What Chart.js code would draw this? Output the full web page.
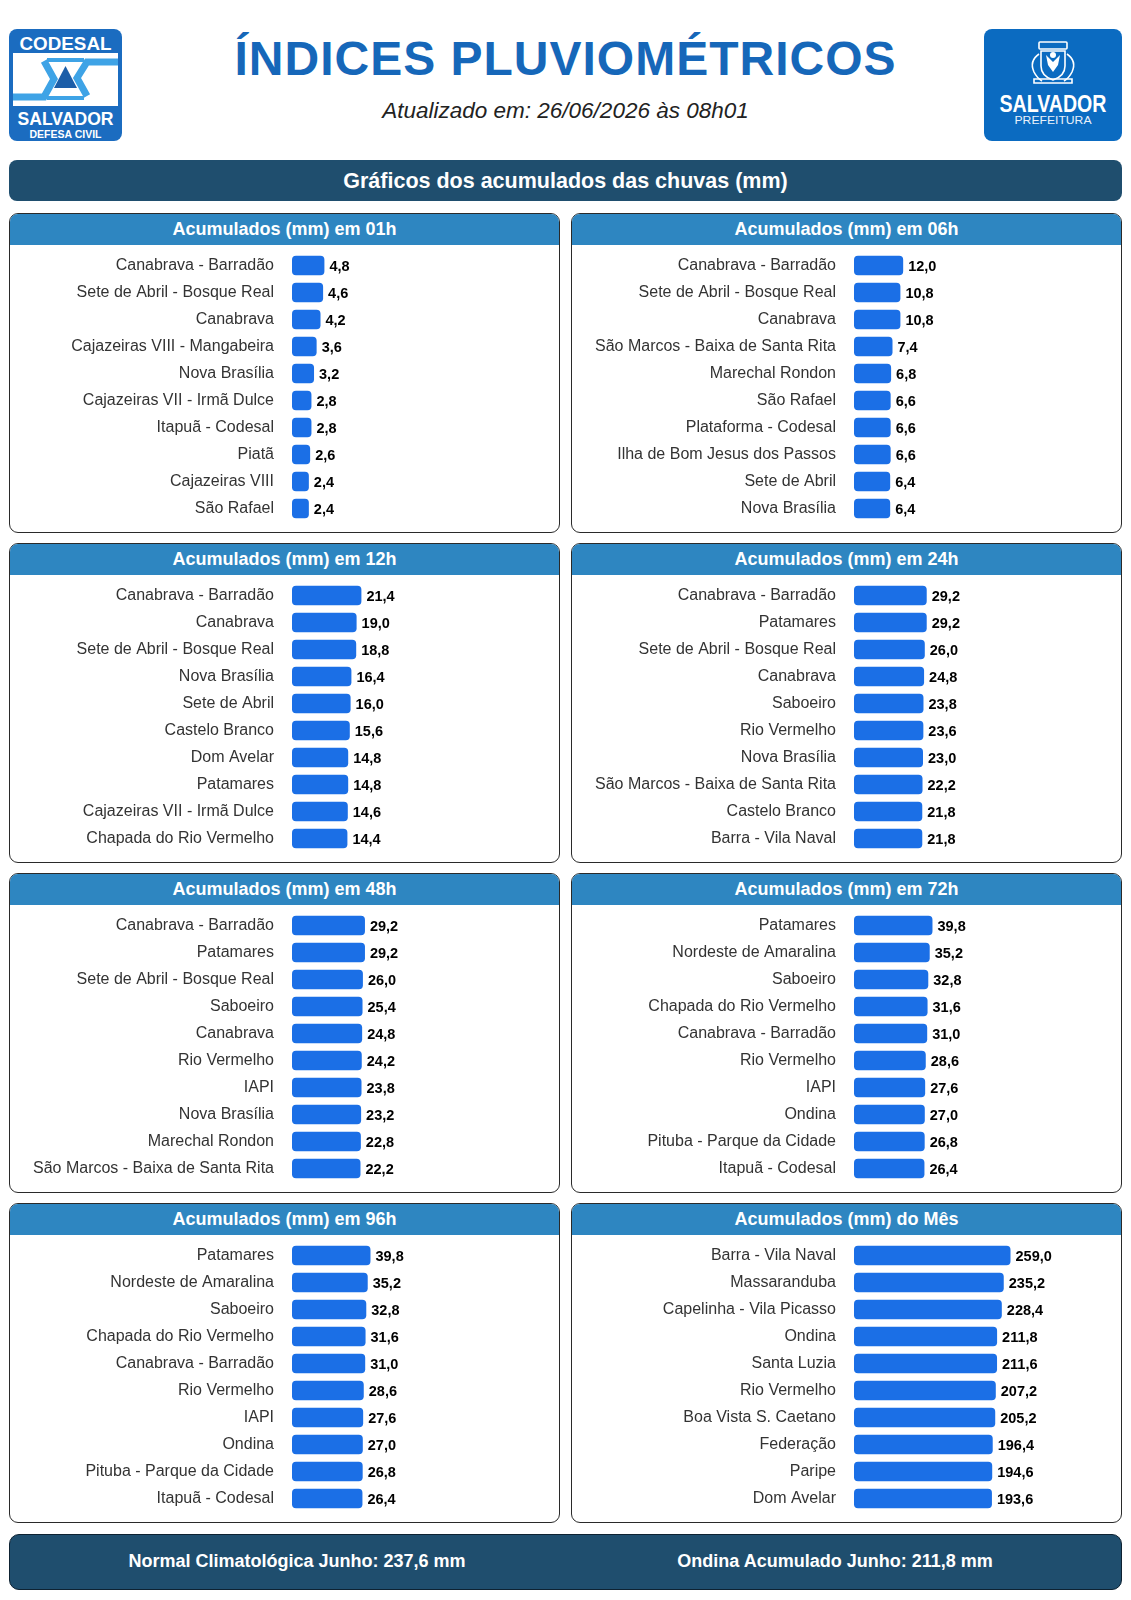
<!DOCTYPE html>
<html lang="pt-BR">
<head>
<meta charset="utf-8">
<title>Índices Pluviométricos</title>
<script src="https://cdn.jsdelivr.net/npm/chart.js@4.4.1/dist/chart.umd.min.js"></script>
<style>
  html, body { margin: 0; padding: 0; background: #fff; }
  body { width: 1131px; height: 1600px; position: relative; font-family: "Liberation Sans", Arial, sans-serif; }
  .abs { position: absolute; }
  #title { left: 0; width: 1131px; top: 30px; text-align: center; color: #1667b9; font-weight: bold; font-size: 48px; letter-spacing: 1px; line-height: 58px; }
  #subtitle { left: 0; width: 1131px; top: 98px; text-align: center; color: #222; font-style: italic; font-size: 22.5px; line-height: 26px; }
  #banner { left: 9px; top: 160px; width: 1113px; height: 41px; background: #1f4e6e; border-radius: 8px; color: #fff; font-weight: bold; font-size: 21.5px; line-height: 42px; text-align: center; }
  .panel { position: absolute; width: 551px; height: 320px; box-sizing: border-box; border: 1px solid #2a2a2a; border-radius: 9px; overflow: hidden; background: #fff; }
  .phead { height: 31px; background: #2e86c1; color: #fff; font-weight: bold; font-size: 18px; line-height: 31px; text-align: center; }
  .panel canvas { display: block; margin-top: -1.5px; }
  #footer { left: 9px; top: 1534px; width: 1113px; height: 56px; box-sizing: border-box; background: #1f4e6e; border: 1.5px solid #0e2232; border-radius: 10px; color: #fff; font-weight: bold; font-size: 18px; }
  #footer span { position: absolute; top: 0; line-height: 53px; white-space: nowrap; transform: translateX(-50%); }
</style>
</head>
<body>

<script>
// accumulated rain per station (mm), read from the bulletin
const labels01h = ['Canabrava - Barradão', 'Sete de Abril - Bosque Real', 'Canabrava', 'Cajazeiras VIII - Mangabeira', 'Nova Brasília', 'Cajazeiras VII - Irmã Dulce', 'Itapuã - Codesal', 'Piatã', 'Cajazeiras VIII', 'São Rafael'];
const values01h = [4.8, 4.6, 4.2, 3.6, 3.2, 2.8, 2.8, 2.6, 2.4, 2.4];

const labels06h = ['Canabrava - Barradão', 'Sete de Abril - Bosque Real', 'Canabrava', 'São Marcos - Baixa de Santa Rita', 'Marechal Rondon', 'São Rafael', 'Plataforma - Codesal', 'Ilha de Bom Jesus dos Passos', 'Sete de Abril', 'Nova Brasília'];
const values06h = [12.0, 10.8, 10.8, 7.4, 6.8, 6.6, 6.6, 6.6, 6.4, 6.4];

const labels12h = ['Canabrava - Barradão', 'Canabrava', 'Sete de Abril - Bosque Real', 'Nova Brasília', 'Sete de Abril', 'Castelo Branco', 'Dom Avelar', 'Patamares', 'Cajazeiras VII - Irmã Dulce', 'Chapada do Rio Vermelho'];
const values12h = [21.4, 19.0, 18.8, 16.4, 16.0, 15.6, 14.8, 14.8, 14.6, 14.4];

const labels24h = ['Canabrava - Barradão', 'Patamares', 'Sete de Abril - Bosque Real', 'Canabrava', 'Saboeiro', 'Rio Vermelho', 'Nova Brasília', 'São Marcos - Baixa de Santa Rita', 'Castelo Branco', 'Barra - Vila Naval'];
const values24h = [29.2, 29.2, 26.0, 24.8, 23.8, 23.6, 23.0, 22.2, 21.8, 21.8];

const labels48h = ['Canabrava - Barradão', 'Patamares', 'Sete de Abril - Bosque Real', 'Saboeiro', 'Canabrava', 'Rio Vermelho', 'IAPI', 'Nova Brasília', 'Marechal Rondon', 'São Marcos - Baixa de Santa Rita'];
const values48h = [29.2, 29.2, 26.0, 25.4, 24.8, 24.2, 23.8, 23.2, 22.8, 22.2];

const labels72h = ['Patamares', 'Nordeste de Amaralina', 'Saboeiro', 'Chapada do Rio Vermelho', 'Canabrava - Barradão', 'Rio Vermelho', 'IAPI', 'Ondina', 'Pituba - Parque da Cidade', 'Itapuã - Codesal'];
const values72h = [39.8, 35.2, 32.8, 31.6, 31.0, 28.6, 27.6, 27.0, 26.8, 26.4];

const labels96h = ['Patamares', 'Nordeste de Amaralina', 'Saboeiro', 'Chapada do Rio Vermelho', 'Canabrava - Barradão', 'Rio Vermelho', 'IAPI', 'Ondina', 'Pituba - Parque da Cidade', 'Itapuã - Codesal'];
const values96h = [39.8, 35.2, 32.8, 31.6, 31.0, 28.6, 27.6, 27.0, 26.8, 26.4];

const labelsMes = ['Barra - Vila Naval', 'Massaranduba', 'Capelinha - Vila Picasso', 'Ondina', 'Santa Luzia', 'Rio Vermelho', 'Boa Vista S. Caetano', 'Federação', 'Paripe', 'Dom Avelar'];
const valuesMes = [259.0, 235.2, 228.4, 211.8, 211.6, 207.2, 205.2, 196.4, 194.6, 193.6];

const normalJunho = 237.6;
const ondinaJunho = 211.8;
</script>

<!-- CODESAL logo -->
<svg class="abs" style="left:9px;top:29px" width="113" height="112" viewBox="0 0 113 112">
  <rect x="0" y="0" width="113" height="112" rx="8" fill="#1b6cc0"/>
  <text x="56.5" y="20.5" text-anchor="middle" fill="#fff" font-family="Liberation Sans, Arial, sans-serif" font-weight="bold" font-size="19" textLength="92" lengthAdjust="spacingAndGlyphs">CODESAL</text>
  <rect x="4" y="24" width="105" height="53" fill="#fff"/>
  <polyline points="109,33 78,33 68,49 78,67" fill="none" stroke="#3ea3e6" stroke-width="7"/>
  <polyline points="4,68 35,68 45,50 35,32" fill="none" stroke="#3ea3e6" stroke-width="7"/>
  <polyline points="38,31 75,31" fill="none" stroke="#3ea3e6" stroke-width="4"/>
  <polyline points="38,69 75,69" fill="none" stroke="#3ea3e6" stroke-width="4"/>
  <polygon points="56.5,37 68,59 45,59" fill="#1c5ea8"/>
  <text x="56.5" y="96" text-anchor="middle" fill="#fff" font-family="Liberation Sans, Arial, sans-serif" font-weight="bold" font-size="19" textLength="96" lengthAdjust="spacingAndGlyphs">SALVADOR</text>
  <text x="56.5" y="108.5" text-anchor="middle" fill="#fff" font-family="Liberation Sans, Arial, sans-serif" font-weight="bold" font-size="11" textLength="72" lengthAdjust="spacingAndGlyphs">DEFESA CIVIL</text>
</svg>

<!-- Prefeitura logo -->
<svg class="abs" style="left:984px;top:29px" width="138" height="112" viewBox="0 0 138 112">
  <rect x="0" y="0" width="138" height="112" rx="8" fill="#0b6bc1"/>
  <g fill="none" stroke="#fff" stroke-width="1.6">
    <rect x="55" y="13" width="28" height="7" rx="1"/>
    <path d="M57 22 h24 v15 q0 10 -12 14 q-12 -4 -12 -14 z"/>
    <path d="M55 25 q-10 7 -5 18 q3 6 8 9"/>
    <path d="M83 25 q10 7 5 18 q-3 6 -8 9"/>
    <path d="M50 50 h38 v4 h-38 z"/>
  </g>
  <path d="M62 26 l7 7 l7 -7 l-2 10 l-5 7 l-5 -7 z" fill="#fff"/>
  <circle cx="69" cy="26" r="3" fill="#fff"/>
  <text x="69" y="83" text-anchor="middle" fill="#fff" font-family="Liberation Sans, Arial, sans-serif" font-weight="bold" font-size="24" textLength="107" lengthAdjust="spacingAndGlyphs">SALVADOR</text>
  <text x="69" y="95" text-anchor="middle" fill="#e8f1fb" font-family="Liberation Sans, Arial, sans-serif" font-size="10.5" textLength="77" lengthAdjust="spacingAndGlyphs">PREFEITURA</text>
</svg>

<div id="title" class="abs">ÍNDICES PLUVIOMÉTRICOS</div>
<div id="subtitle" class="abs">Atualizado em: 26/06/2026 às 08h01</div>
<div id="banner" class="abs">Gráficos dos acumulados das chuvas (mm)</div>

<div id="panels"></div>

<div id="footer" class="abs">
  <span id="normal" style="left:287px"></span>
  <span id="ondina" style="left:825px"></span>
</div>

<script>
const fmt = v => v.toFixed(1).replace('.', ',');

document.getElementById('normal').textContent = 'Normal Climatológica Junho: ' + fmt(normalJunho) + ' mm';
document.getElementById('ondina').textContent = 'Ondina Acumulado Junho: ' + fmt(ondinaJunho) + ' mm';

// value axis range per panel, so bar lengths follow the original bulletin
const panels = [
  { title: 'Acumulados (mm) em 01h', labels: labels01h, values: values01h, min: -0.2, max: 41 },
  { title: 'Acumulados (mm) em 06h', labels: labels06h, values: values06h, min: -9.2, max: 105.9 },
  { title: 'Acumulados (mm) em 12h', labels: labels12h, values: values12h, min: -13.3, max: 120.2 },
  { title: 'Acumulados (mm) em 24h', labels: labels24h, values: values24h, min: -92, max: 353 },
  { title: 'Acumulados (mm) em 48h', labels: labels48h, values: values48h, min: -84.8, max: 332.4 },
  { title: 'Acumulados (mm) em 72h', labels: labels72h, values: values72h, min: -91, max: 354 },
  { title: 'Acumulados (mm) em 96h', labels: labels96h, values: values96h, min: -91, max: 354 },
  { title: 'Acumulados (mm) do Mês', labels: labelsMes, values: valuesMes, min: -292, max: 648 }
];

const FONT = '"Liberation Sans", Arial, sans-serif';

const valueLabels = {
  id: 'valueLabels',
  afterDatasetsDraw(chart) {
    const ctx = chart.ctx;
    const ds = chart.data.datasets[0];
    ctx.save();
    ctx.font = 'bold 14.5px ' + FONT;
    ctx.fillStyle = '#000';
    ctx.textBaseline = 'middle';
    ctx.textAlign = 'left';
    chart.getDatasetMeta(0).data.forEach((bar, i) => {
      ctx.fillText(fmt(ds.data[i]), bar.x + 5, bar.y + 1.5);
    });
    ctx.restore();
  }
};

const host = document.getElementById('panels');
panels.forEach((p, i) => {
  const col = i % 2, row = Math.floor(i / 2);
  const box = document.createElement('div');
  box.className = 'panel';
  box.style.left = (col ? 571 : 9) + 'px';
  box.style.top = (213 + row * 330) + 'px';
  const head = document.createElement('div');
  head.className = 'phead';
  head.textContent = p.title;
  const canvas = document.createElement('canvas');
  canvas.width = 549;
  canvas.height = 287;
  canvas.style.width = '549px';
  canvas.style.height = '287px';
  box.appendChild(head);
  box.appendChild(canvas);
  host.appendChild(box);

  new Chart(canvas, {
    type: 'bar',
    data: {
      labels: p.labels,
      datasets: [{
        data: p.values,
        backgroundColor: '#1b6fe6',
        borderRadius: 4,
        borderSkipped: false,
        base: p.min,
        barPercentage: 0.72,
        categoryPercentage: 1
      }]
    },
    options: {
      indexAxis: 'y',
      responsive: false,
      animation: false,
      events: [],
      layout: { padding: { top: 8, bottom: 9, left: 0, right: 0 } },
      plugins: {
        legend: { display: false },
        tooltip: { enabled: false }
      },
      scales: {
        x: { display: false, min: p.min, max: p.max },
        y: {
          grid: { display: false, drawTicks: true, tickLength: 18 },
          border: { display: false },
          ticks: { color: '#333', font: { size: 16, family: FONT, lineHeight: 1 }, padding: 0, autoSkip: false },
          afterFit(scale) { scale.width = 282; }
        }
      }
    },
    plugins: [valueLabels]
  });
});
</script>
</body>
</html>
